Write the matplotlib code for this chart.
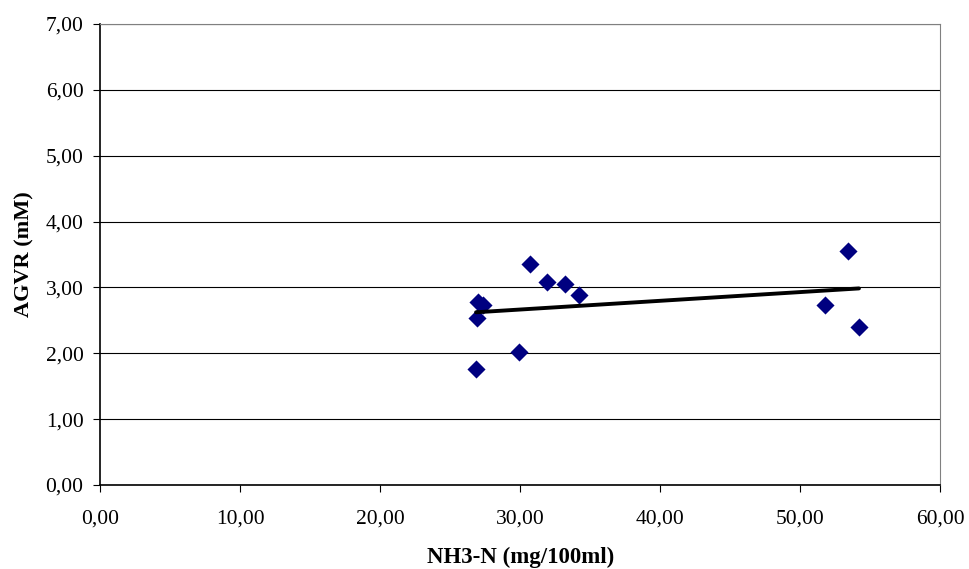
import matplotlib
matplotlib.use("Agg")
import matplotlib.pyplot as plt
import numpy as np
from matplotlib.ticker import FuncFormatter, MultipleLocator

nh3_n = [27.0, 27.34, 26.89, 30.69, 31.93, 33.19, 34.21, 29.89, 26.84, 53.41, 51.79, 54.19]
agvr = [2.78, 2.73, 2.53, 3.35, 3.08, 3.05, 2.88, 2.02, 1.76, 3.55, 2.74, 2.40]

plt.rcParams['font.family'] = ['Liberation Serif', 'DejaVu Serif']

fig = plt.figure(figsize=(9.69, 5.69), dpi=100)
ax = fig.add_axes([0.1035, 0.1476, 0.8669, 0.8102])

x = np.array(nh3_n)
y = np.array(agvr)
slope, intercept = np.polyfit(x, y, 1)
xl = np.array([x.min(), x.max()])

ax.set_xlim(0, 60)
ax.set_ylim(0, 7)
ax.xaxis.set_major_locator(MultipleLocator(10))
ax.yaxis.set_major_locator(MultipleLocator(1))
fmt = FuncFormatter(lambda v, p: f"{v:.2f}".replace('.', ','))
ax.xaxis.set_major_formatter(fmt)
ax.yaxis.set_major_formatter(fmt)

ax.grid(axis='y', color='black', linewidth=0.8)
ax.set_axisbelow(True)
ax.scatter(x, y, marker='D', s=85, color='#000080', zorder=3, linewidths=0)
ax.plot(xl, slope * xl + intercept, color='black', linewidth=2.8, zorder=4,
        solid_capstyle='round')

for s in ['top', 'right']:
    ax.spines[s].set_color('#808080')
for s in ['left', 'bottom']:
    ax.spines[s].set_color('black')
    ax.spines[s].set_linewidth(1.2)

ax.tick_params(axis='both', direction='out', length=5, labelsize=15.5, pad=7)
ax.tick_params(axis='x', pad=13)
ax.set_xlabel('NH3-N (mg/100ml)', fontsize=16.5, fontweight='bold', labelpad=13)
ax.set_ylabel('AGVR (mM)', fontsize=16, fontweight='bold', labelpad=8)

fig.savefig('out.png', dpi=100)
